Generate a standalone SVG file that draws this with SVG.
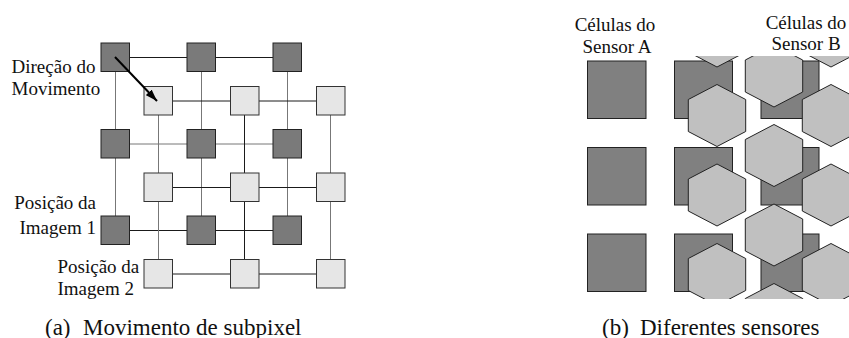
<svg xmlns="http://www.w3.org/2000/svg" width="849" height="338" viewBox="0 0 849 338" font-family="Liberation Serif, DejaVu Serif, Noto Serif, serif">
<style>
.lbl{font-size:19px;fill:#111;}
.cap{font-size:23px;fill:#111;}
.dk{fill:#7a7a7a;stroke:#222;stroke-width:1;}
.lt{fill:#e6e6e6;stroke:#333;stroke-width:1;}
.ln{stroke:#1a1a1a;stroke-width:1;fill:none;}
.lg{stroke:#777;stroke-width:1;fill:none;}
.sq{fill:#808080;stroke:#222;stroke-width:1;}
.hx{fill:#c0c0c0;stroke:#222;stroke-width:1;}
</style>
<defs>
<marker id="ah" viewBox="0 0 12 8" refX="12" refY="4" markerWidth="12" markerHeight="8" markerUnits="userSpaceOnUse" orient="auto">
<path d="M0,0 L12,4 L0,8 z" fill="#000"/>
</marker>
<clipPath id="clipB"><rect x="660" y="56" width="189" height="243"/></clipPath>
<polygon id="hex" points="0,0 28.7,15 28.7,47 0,62 -28.7,47 -28.7,15"/>
</defs>
<rect width="849" height="338" fill="#fff"/>

<g id="connectors">
<line class="ln" x1="115" y1="57.5" x2="288" y2="57.5"/>
<line class="lg" x1="115" y1="144" x2="288" y2="144"/>
<line class="ln" x1="115" y1="230.5" x2="288" y2="230.5"/>
<line class="lg" x1="115.5" y1="57" x2="115.5" y2="231"/>
<line class="lg" x1="201.5" y1="57" x2="201.5" y2="231"/>
<line class="lg" x1="287.5" y1="57" x2="287.5" y2="231"/>
<line class="ln" x1="158" y1="101" x2="331" y2="101"/>
<line class="ln" x1="158" y1="187.5" x2="331" y2="187.5"/>
<line class="ln" x1="158" y1="274" x2="331" y2="274"/>
<line class="lg" x1="158.5" y1="100" x2="158.5" y2="274"/>
<line class="ln" x1="244.5" y1="100" x2="244.5" y2="274"/>
<line class="lg" x1="330.5" y1="100" x2="330.5" y2="274"/>
</g>

<g id="dark-squares">
<rect class="dk" x="101" y="43" width="28.5" height="28.5"/>
<rect class="dk" x="187" y="43" width="28.5" height="28.5"/>
<rect class="dk" x="273" y="43" width="28.5" height="28.5"/>
<rect class="dk" x="101" y="129.5" width="28.5" height="28.5"/>
<rect class="dk" x="187" y="129.5" width="28.5" height="28.5"/>
<rect class="dk" x="273" y="129.5" width="28.5" height="28.5"/>
<rect class="dk" x="101" y="216" width="28.5" height="28.5"/>
<rect class="dk" x="187" y="216" width="28.5" height="28.5"/>
<rect class="dk" x="273" y="216" width="28.5" height="28.5"/>
</g>
<g id="light-squares">
<rect class="lt" x="144" y="86.5" width="28.5" height="28.5"/>
<rect class="lt" x="230.5" y="86.5" width="28.5" height="28.5"/>
<rect class="lt" x="316.5" y="86.5" width="28.5" height="28.5"/>
<rect class="lt" x="144" y="173" width="28.5" height="28.5"/>
<rect class="lt" x="230.5" y="173" width="28.5" height="28.5"/>
<rect class="lt" x="316.5" y="173" width="28.5" height="28.5"/>
<rect class="lt" x="144" y="259.5" width="28.5" height="28.5"/>
<rect class="lt" x="230.5" y="259.5" width="28.5" height="28.5"/>
<rect class="lt" x="316.5" y="259.5" width="28.5" height="28.5"/>
</g>

<g id="arrow">
<line x1="115" y1="57" x2="157" y2="101" stroke="#000" stroke-width="2" marker-end="url(#ah)"/>
</g>

<g id="labels-a" font-family="Liberation Serif, serif">
<text class="lbl" x="11.5" y="72.7">Direção do</text>
<text class="lbl" x="11.5" y="95">Movimento</text>
<text class="lbl" x="96" y="209.3" text-anchor="end">Posição da</text>
<text class="lbl" x="96" y="234.3" text-anchor="end">Imagem 1</text>
<text class="lbl" x="57.5" y="272.7">Posição da</text>
<text class="lbl" x="57.5" y="295">Imagem 2</text>
</g>

<g id="sensor-a">
<rect class="sq" x="587.5" y="61" width="58.5" height="57.5"/>
<rect class="sq" x="587.5" y="147.5" width="58.5" height="57.5"/>
<rect class="sq" x="587.5" y="234" width="58.5" height="57.5"/>
</g>

<g id="sensor-b" clip-path="url(#clipB)">
<rect class="sq" x="674.5" y="61" width="58" height="57.5"/>
<rect class="sq" x="761" y="61" width="58" height="57.5"/>
<rect class="sq" x="674.5" y="147.5" width="58" height="57.5"/>
<rect class="sq" x="761" y="147.5" width="58" height="57.5"/>
<rect class="sq" x="674.5" y="234" width="58" height="57.5"/>
<rect class="sq" x="761" y="234" width="58" height="57.5"/>
<use href="#hex" class="hx" x="717" y="5"/>
<use href="#hex" class="hx" x="717" y="84.5"/>
<use href="#hex" class="hx" x="717" y="164"/>
<use href="#hex" class="hx" x="717" y="243.5"/>
<use href="#hex" class="hx" x="774" y="45"/>
<use href="#hex" class="hx" x="774" y="124.5"/>
<use href="#hex" class="hx" x="774" y="204"/>
<use href="#hex" class="hx" x="774" y="283.5"/>
<use href="#hex" class="hx" x="831" y="5"/>
<use href="#hex" class="hx" x="831" y="84.5"/>
<use href="#hex" class="hx" x="831" y="164"/>
<use href="#hex" class="hx" x="831" y="243.5"/>
</g>

<g id="labels-b" font-family="Liberation Serif, serif">
<text class="lbl" x="615" y="31" text-anchor="middle">Células do</text>
<text class="lbl" x="617" y="53.3" text-anchor="middle">Sensor A</text>
<text class="lbl" x="806" y="28.5" text-anchor="middle">Células do</text>
<text class="lbl" x="806" y="50" text-anchor="middle">Sensor B</text>
</g>

<g id="captions" font-family="Liberation Serif, serif">
<text class="cap" y="334.5"><tspan x="45">(a)</tspan><tspan x="83">Movimento de subpixel</tspan></text>
<text class="cap" y="334.5"><tspan x="602">(b)</tspan><tspan x="640">Diferentes sensores</tspan></text>
</g>
</svg>
